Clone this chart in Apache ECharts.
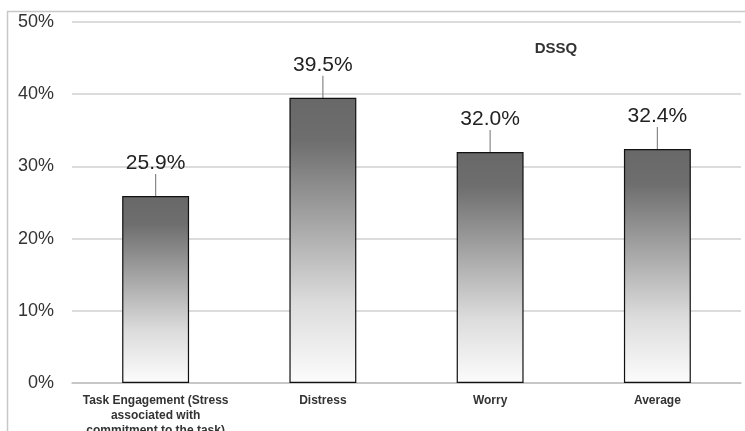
<!DOCTYPE html>
<html>
<head>
<meta charset="utf-8">
<script src="https://cdn.jsdelivr.net/npm/echarts@6/dist/echarts.min.js"></script>
<style>html,body{margin:0;padding:0;background:#fff;}#c{width:745px;height:431px;}</style>
</head>
<body>
<div id="c"></div>
<script>
var categories = ['Task Engagement (Stress\nassociated with\ncommitment to the task)', 'Distress', 'Worry', 'Average'];
var values = [25.9, 39.5, 32.0, 32.4];
var yTicks = [0, 10, 20, 30, 40, 50];

var chart = echarts.init(document.getElementById('c'), null, {renderer: 'canvas'});
chart.setOption({
  animation: false,
  backgroundColor: '#fff',
  title: {
    text: 'DSSQ', left: 551, top: 36, textAlign: 'center',
    textStyle: {fontFamily: 'Liberation Sans', fontSize: 15, fontWeight: 'bold', color: '#333'}
  },
  graphic: [{
    type: 'rect', silent: true, z: -1,
    shape: {x: 7.5, y: 11.5, width: 800, height: 500},
    style: {fill: 'none', stroke: '#c8c8c8', lineWidth: 1.5}
  }],
  grid: {left: 72, right: 4, top: 22, bottom: 48, containLabel: false, outerBoundsMode: 'none'},
  xAxis: {
    type: 'category', data: categories,
    axisLine: {show: true, lineStyle: {color: '#c0c0c0', width: 1.5}},
    axisTick: {show: false},
    axisLabel: {interval: 0, margin: 10, fontFamily: 'Liberation Sans', fontSize: 12, fontWeight: 'bold', color: '#333', lineHeight: 15}
  },
  yAxis: {
    type: 'value', min: 0, max: 50, interval: 10,
    axisLine: {show: false}, axisTick: {show: false},
    splitLine: {lineStyle: {color: '#d0d0d0', width: 1.5}},
    axisLabel: {
      margin: 18, fontFamily: 'Liberation Sans', fontSize: 18, color: '#333',
      formatter: function (v) { return yTicks.indexOf(v) >= 0 ? v + '%' : ''; }
    }
  },
  series: [{
    type: 'bar', data: values, barWidth: '40%',
    itemStyle: {
      borderColor: '#111', borderWidth: 1.2,
      color: {type: 'linear', x: 0, y: 0, x2: 0, y2: 1, colorStops: [
        {offset: 0, color: '#686868'},
        {offset: 0.15, color: '#6e6e6e'},
        {offset: 0.45, color: '#a8a8a8'},
        {offset: 0.72, color: '#dcdcdc'},
        {offset: 1, color: '#fcfcfc'}
      ]}
    },
    label: {
      show: true, position: 'top', distance: 2,
      fontFamily: 'Liberation Sans', fontSize: 21, color: '#222',
      formatter: function (p) { return p.value.toFixed(1) + '%'; }
    },
    labelLayout: {dy: -20},
    labelLine: {show: true, lineStyle: {color: '#888', width: 1.2}}
  }]
});
</script>
</body>
</html>
